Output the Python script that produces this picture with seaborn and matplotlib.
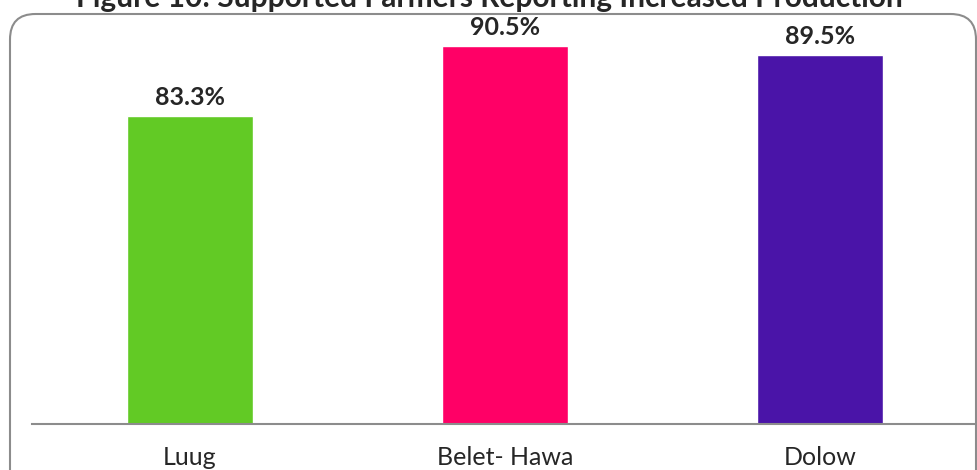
import matplotlib
matplotlib.use("Agg")
import matplotlib.pyplot as plt
import seaborn as sns
import pandas as pd
from matplotlib.patches import FancyBboxPatch

# data
districts = ["Luug", "Belet- Hawa", "Dolow"]
pct = [83.3, 90.5, 89.5]
bar_colors = ["#62CA25", "#FF0066", "#4A14A8"]
title = "Figure 10: Supported Farmers Reporting Increased Production"

df = pd.DataFrame({"district": districts, "pct": pct})

sns.set_style("white")
plt.rcParams["font.family"] = ["Lato", "DejaVu Sans"]

W, H = 978, 470
fig = plt.figure(figsize=(W / 100, H / 100), dpi=100)

# rounded frame around chart
frame = FancyBboxPatch((10 / W, -40 / H), 966 / W, (470 - 14 + 40) / H,
                       boxstyle="round,pad=0,rounding_size=0.026",
                       transform=fig.transFigure, facecolor="none",
                       edgecolor="#8c8c8c", linewidth=1.5, mutation_aspect=W / H,
                       zorder=-1)
fig.patches.append(frame)

ax = fig.add_axes([32 / W, 1 - 424 / H, (W - 32) / W, (424 - 14) / H])
ax.patch.set_alpha(0)
sns.barplot(data=df, x="district", y="pct", hue="district", palette=bar_colors,
            legend=False, width=0.4, saturation=1, ax=ax)

ax.set_xlim(-0.5, 2.5)
ax.set_ylim(51.5, 51.5 + 410 / 9.7)
ax.set_xlabel("")
ax.set_ylabel("")
ax.set_yticks([])
for s in ["top", "right", "left"]:
    ax.spines[s].set_visible(False)
ax.spines["bottom"].set_color("#8c8c8c")
ax.spines["bottom"].set_linewidth(1.5)
ax.tick_params(axis="x", length=0, pad=16, labelsize=18)

for i, v in enumerate(pct):
    ax.annotate(f"{v}%", (i, v), xytext=(0, 5), textcoords="offset points",
                ha="center", va="bottom", fontsize=18, fontweight="bold",
                annotation_clip=False)

fig.text(0.5, 1 - 7 / H, title, ha="center", va="baseline",
         fontsize=21.5, fontweight="bold")

fig.savefig("out.png", dpi=100)
